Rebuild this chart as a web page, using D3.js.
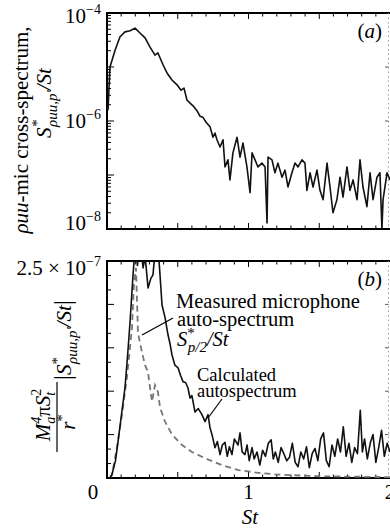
<!DOCTYPE html>
<html>
<head>
<meta charset="utf-8">
<script src="https://cdn.jsdelivr.net/npm/d3@7"></script>
<style>
  body { margin: 0; background: #fff; }
  svg { display: block; font-family: "Liberation Serif", "DejaVu Serif", serif; }
</style>
</head>
<body>
<svg id="chart" width="390" height="529"></svg>
<script>
// panel (a): rho-u-u / mic cross-spectrum (log axis)
const stA = [0.007, 0.021, 0.057, 0.092, 0.127, 0.163, 0.198, 0.233, 0.269, 0.304,
  0.339, 0.36, 0.396, 0.424, 0.459, 0.495, 0.523, 0.544, 0.565, 0.587,
  0.608, 0.636, 0.657, 0.678, 0.70, 0.728, 0.749, 0.763, 0.777, 0.799,
  0.82, 0.834, 0.855, 0.869, 0.89, 0.919, 0.94, 0.961, 0.989, 1.011,
  1.025, 1.046, 1.067, 1.095, 1.117, 1.131, 1.138, 1.166, 1.187, 1.208,
  1.237, 1.258, 1.279, 1.307, 1.329, 1.35, 1.378, 1.399, 1.413, 1.435,
  1.456, 1.484, 1.505, 1.527, 1.555, 1.576, 1.597, 1.625, 1.647, 1.668,
  1.696, 1.717, 1.739, 1.767, 1.788, 1.809, 1.837, 1.859, 1.88, 1.908,
  1.929, 1.943, 1.951, 1.979, 2.0];
const crossA = [1.58e-6, 1.0e-5, 2.04e-5, 3.63e-5, 4.47e-5, 4.68e-5, 5.25e-5, 4.27e-5, 3.47e-5, 2.34e-5,
  1.66e-5, 1.82e-5, 1.10e-5, 7.76e-6, 5.75e-6, 4.68e-6, 3.72e-6, 4.07e-6, 2.45e-6, 2.14e-6,
  1.91e-6, 1.55e-6, 1.23e-6, 1.17e-6, 9.5e-7, 7.8e-7, 5.0e-7, 6.0e-7, 4.5e-7, 3.3e-7,
  4.5e-7, 1.41e-7, 1.91e-7, 8.1e-8, 2.57e-7, 5.0e-7, 2.14e-7, 3.9e-7, 1.41e-7, 4.7e-8,
  2.57e-7, 1.91e-7, 1.41e-7, 1.66e-7, 1.41e-7, 1.29e-8, 2.14e-7, 1.91e-7, 1.10e-7, 1.66e-7,
  9.1e-8, 1.23e-7, 6.0e-8, 1.10e-7, 1.66e-7, 1.41e-7, 1.91e-7, 1.66e-7, 5.2e-8, 1.10e-7,
  6.0e-8, 1.23e-7, 5.2e-8, 3.5e-8, 1.66e-7, 6.0e-8, 2.0e-8, 3.5e-8, 9.1e-8, 3.9e-8,
  1.41e-7, 5.2e-8, 8.1e-8, 3.5e-8, 1.91e-7, 6.0e-8, 2.6e-8, 1.10e-7, 3.5e-8, 9.1e-8,
  1.10e-7, 1.0e-8, 3.5e-8, 1.10e-7, 8.1e-8];

// panel (b): calculated autospectrum (solid), units of 1e-7
const stCalc = [0.02, 0.035, 0.06, 0.078, 0.10, 0.127, 0.145, 0.163, 0.184, 0.20,
  0.215, 0.235, 0.255, 0.27, 0.29, 0.31, 0.325, 0.34, 0.355, 0.37,
  0.389, 0.41, 0.431, 0.445, 0.459, 0.48, 0.502, 0.52, 0.537, 0.555,
  0.572, 0.587, 0.60, 0.622, 0.645, 0.671, 0.693, 0.714, 0.728, 0.742,
  0.763, 0.78, 0.799, 0.815, 0.834, 0.85, 0.865, 0.883, 0.90, 0.926,
  0.94, 0.955, 0.975, 0.99, 1.005, 1.025, 1.04, 1.06, 1.08, 1.10,
  1.12, 1.14, 1.16, 1.175, 1.19, 1.21, 1.23, 1.25, 1.27, 1.29,
  1.31, 1.33, 1.35, 1.37, 1.39, 1.41, 1.43, 1.45, 1.47, 1.49,
  1.51, 1.53, 1.55, 1.57, 1.59, 1.61, 1.63, 1.65, 1.67, 1.69,
  1.71, 1.73, 1.75, 1.77, 1.79, 1.805, 1.82, 1.84, 1.86, 1.88,
  1.90, 1.92, 1.94, 1.96, 1.98, 2.0];
const calcB = [0.0, 0.04, 0.20, 0.42, 0.70, 1.04, 1.40, 1.80, 2.34, 2.70,
  2.45, 2.75, 2.42, 2.55, 2.19, 2.30, 2.34, 2.62, 2.75, 2.45,
  1.99, 1.85, 1.65, 1.55, 1.42, 1.30, 1.27, 1.18, 1.11, 1.10,
  1.04, 0.92, 0.95, 0.76, 0.80, 0.73, 0.65, 0.73, 0.58, 0.50,
  0.35, 0.42, 0.27, 0.38, 0.41, 0.25, 0.36, 0.27, 0.45, 0.38,
  0.52, 0.30, 0.27, 0.38, 0.20, 0.35, 0.22, 0.30, 0.15, 0.32,
  0.25, 0.40, 0.44, 0.22, 0.30, 0.18, 0.35, 0.28, 0.20, 0.24,
  0.40, 0.18, 0.13, 0.30, 0.22, 0.36, 0.12, 0.28, 0.34, 0.20,
  0.45, 0.52, 0.20, 0.13, 0.38, 0.25, 0.45, 0.30, 0.59, 0.25,
  0.40, 0.18, 0.35, 0.28, 0.78, 0.30, 0.45, 0.22, 0.40, 0.50,
  0.18, 0.35, 0.55, 0.25, 0.40, 0.30];

// panel (b): measured microphone auto-spectrum (dashed)
const stMeas = [0.02, 0.035, 0.071, 0.106, 0.141, 0.177, 0.19, 0.205, 0.212, 0.219,
  0.247, 0.269, 0.29, 0.304, 0.318, 0.339, 0.36, 0.375, 0.41, 0.46,
  0.53, 0.60, 0.69, 0.81, 0.93, 1.07, 1.2, 1.5, 2.0];
const measB = [0.0, 0.035, 0.36, 0.73, 1.16, 1.74, 2.22, 2.42, 2.05, 1.67,
  1.45, 1.30, 1.22, 1.04, 0.88, 1.07, 0.99, 0.81, 0.65, 0.50,
  0.38, 0.30, 0.23, 0.15, 0.09, 0.06, 0.04, 0.02, 0.01];

const xTickLabels = ['0', '1', '2'];
const yTicksA = [-4, -6, -8];

const svg = d3.select('#chart');
const left = 107, right = 390;
const x = d3.scaleLinear().domain([0, 2]).range([left, right]);
const yA = d3.scaleLog().domain([1e-8, 1e-4]).range([229, 13]);
const yB = d3.scaleLinear().domain([0, 2.5]).range([478, 261]);

svg.append('defs').append('clipPath').attr('id', 'clipB')
  .append('rect').attr('x', left).attr('y', 261).attr('width', right - left).attr('height', 217);
svg.append('defs').append('clipPath').attr('id', 'clipA')
  .append('rect').attr('x', left).attr('y', 13).attr('width', right - left).attr('height', 216);

// tick marks, all pointing inward
function xTicks(yPos, dir) {
  const g = svg.append('g').attr('stroke', '#000').attr('stroke-width', 1);
  g.selectAll('line').data(d3.range(1, 20).map(i => i / 10)).enter().append('line')
    .attr('x1', d => x(d)).attr('x2', d => x(d))
    .attr('y1', yPos).attr('y2', d => yPos + dir * (Math.abs(d * 2 - Math.round(d * 2)) < 1e-6 ? 6 : 3.5));
}
function frame(top, bottom) {
  const g = svg.append('g').attr('fill', 'none');
  g.append('path').attr('stroke', '#000').attr('stroke-width', 2)
    .attr('d', `M${right + 2},${top}H${left}V${bottom}H${right + 2}`);
  g.append('line').attr('x1', right - 1.5).attr('x2', right - 1.5).attr('y1', top).attr('y2', bottom)
    .attr('stroke', '#999').attr('stroke-width', 1).attr('stroke-dasharray', '1.5,3');
}

// panel a frame + ticks
frame(13, 229);
xTicks(13, 1);
xTicks(229, -1);
const logTicks = [];
for (let e = -8; e < -4; e++) for (let m = 1; m < 10; m++) logTicks.push({ v: m * Math.pow(10, e), major: m === 1 });
logTicks.push({ v: 1e-4, major: true });
svg.append('g').attr('stroke', '#000').selectAll('line').data(logTicks).enter().append('line')
  .attr('x1', left).attr('x2', d => left + (d.major ? 7 : 4))
  .attr('y1', d => yA(d.v)).attr('y2', d => yA(d.v));
svg.append('g').attr('stroke', '#555').selectAll('line').data([1e-5, 1e-6, 1e-7]).enter().append('line')
  .attr('x1', right - 1.5).attr('x2', right - 5)
  .attr('y1', d => yA(d)).attr('y2', d => yA(d));

// panel b frame + ticks
frame(261, 478);
xTicks(261, 1);
xTicks(478, -1);
const linTicks = d3.range(0, 16).map(i => ({ v: i * 2.5 / 15, major: i % 3 === 0 }));
svg.append('g').attr('stroke', '#000').selectAll('line').data(linTicks).enter().append('line')
  .attr('x1', left).attr('x2', d => left + (d.major ? 7 : 4))
  .attr('y1', d => yB(d.v)).attr('y2', d => yB(d.v));
svg.append('g').attr('stroke', '#555').selectAll('line').data([0.5, 1, 1.5, 2]).enter().append('line')
  .attr('x1', right - 1.5).attr('x2', right - 5)
  .attr('y1', d => yB(d)).attr('y2', d => yB(d));

// curves
const lineA = d3.line().x((d, i) => x(stA[i])).y(d => yA(d));
svg.append('path').datum(crossA).attr('clip-path', 'url(#clipA)')
  .attr('fill', 'none').attr('stroke', '#111').attr('stroke-width', 1.6)
  .attr('stroke-linejoin', 'round').attr('d', lineA);

const lineMeas = d3.line().x((d, i) => x(stMeas[i])).y(d => yB(d));
svg.append('path').datum(measB).attr('clip-path', 'url(#clipB)')
  .attr('fill', 'none').attr('stroke', '#777').attr('stroke-width', 1.8)
  .attr('stroke-dasharray', '6,4').attr('d', lineMeas);

const lineCalc = d3.line().x((d, i) => x(stCalc[i])).y(d => yB(d));
svg.append('path').datum(calcB).attr('clip-path', 'url(#clipB)')
  .attr('fill', 'none').attr('stroke', '#111').attr('stroke-width', 1.6)
  .attr('stroke-linejoin', 'round').attr('d', lineCalc);

// tick labels
const yLab = svg.append('g').attr('font-size', 21).attr('text-anchor', 'end');
const yBase = { '-4': 23, '-6': 128, '-8': 230 };
yTicksA.forEach(e => {
  const t = yLab.append('text').attr('x', 101).attr('y', yBase[e]);
  t.append('tspan').text('10');
  t.append('tspan').attr('font-size', 14).attr('dy', -9).text('\u2212' + Math.abs(e));
});
const tB = yLab.append('text').attr('x', 101).attr('y', 275);
tB.append('tspan').text('2.5 \u00d7 10');
tB.append('tspan').attr('font-size', 14).attr('dy', -9).text('\u22127');

svg.append('g').attr('font-size', 21).attr('text-anchor', 'middle')
  .selectAll('text').data(xTickLabels).enter().append('text')
  .attr('x', (d, i) => i === 0 ? x(0) - 14 : x(i))
  .attr('y', 499).text(d => d);

svg.append('text').attr('x', 250).attr('y', 524).attr('text-anchor', 'middle')
  .attr('font-size', 21).attr('font-style', 'italic').text('St');

// panel letters
[['a', 38], ['b', 286]].forEach(([s, yy]) => {
  const t = svg.append('text').attr('x', 382).attr('y', yy).attr('text-anchor', 'end').attr('font-size', 21);
  t.append('tspan').text('(');
  t.append('tspan').attr('font-style', 'italic').text(s);
  t.append('tspan').text(')');
});

// y label panel a
const la1 = svg.append('text').attr('transform', 'translate(28,130) rotate(-90)')
  .attr('text-anchor', 'middle').attr('font-size', 21);
la1.append('tspan').attr('font-style', 'italic').text('\u03c1uu');
la1.append('tspan').text('-mic cross-spectrum,');

const la2 = svg.append('text').attr('transform', 'translate(51,103) rotate(-90)')
  .attr('text-anchor', 'middle').attr('font-size', 21).attr('font-style', 'italic');
la2.append('tspan').text('S');
la2.append('tspan').attr('font-size', 15).attr('dy', -9).text('*');
la2.append('tspan').attr('font-size', 15).attr('dx', -7).attr('dy', 15).text('\u03c1uu,p\u2032');
la2.append('tspan').attr('dy', -6).text('/St');

// y label panel b (fraction)
const num = svg.append('text').attr('transform', 'translate(50,415) rotate(-90)')
  .attr('text-anchor', 'middle').attr('font-size', 21).attr('font-style', 'italic');
num.append('tspan').text('M');
num.append('tspan').attr('font-size', 14).attr('dy', -9).text('4');
num.append('tspan').attr('font-size', 14).attr('dx', -7).attr('dy', 14).text('a');
num.append('tspan').attr('dy', -5).attr('font-style', 'normal').text('\u03c0');
num.append('tspan').text('S');
num.append('tspan').attr('font-size', 14).attr('dy', -9).attr('font-style', 'normal').text('2');
num.append('tspan').attr('font-size', 14).attr('dx', -7).attr('dy', 14).text('t');
svg.append('line').attr('x1', 57).attr('x2', 57).attr('y1', 382).attr('y2', 452)
  .attr('stroke', '#000').attr('stroke-width', 1.2);
const den = svg.append('text').attr('transform', 'translate(75,422) rotate(-90)')
  .attr('text-anchor', 'middle').attr('font-size', 21).attr('font-style', 'italic');
den.append('tspan').text('r');
den.append('tspan').attr('font-size', 15).attr('dy', -8).attr('font-style', 'normal').text('*');

const sb = svg.append('text').attr('transform', 'translate(71,340) rotate(-90)')
  .attr('text-anchor', 'middle').attr('font-size', 21).attr('font-style', 'italic');
sb.append('tspan').attr('font-style', 'normal').attr('font-size', 25).text('|');
sb.append('tspan').text('S');
sb.append('tspan').attr('font-size', 15).attr('dy', -9).attr('font-style', 'normal').text('*');
sb.append('tspan').attr('font-size', 15).attr('dx', -7).attr('dy', 15).text('\u03c1uu,p\u2032');
sb.append('tspan').attr('dy', -6).text('/St');
sb.append('tspan').attr('font-style', 'normal').attr('font-size', 25).text('|');

// annotations panel b
const ann = svg.append('g').attr('font-size', 20.5);
ann.append('text').attr('x', 176).attr('y', 308).text('Measured microphone');
ann.append('text').attr('x', 177).attr('y', 326).text('auto-spectrum');
const sp = ann.append('text').attr('x', 177).attr('y', 346).attr('font-style', 'italic');
sp.append('tspan').text('S');
sp.append('tspan').attr('font-size', 15).attr('dy', -8).attr('font-style', 'normal').text('*');
sp.append('tspan').attr('font-size', 15).attr('dx', -7).attr('dy', 14).text('p/2');
sp.append('tspan').attr('dy', -6).text('/St');
ann.append('line').attr('x1', 142).attr('y1', 335).attr('x2', 173).attr('y2', 318)
  .attr('stroke', '#000').attr('stroke-width', 1.2);

const ann2 = svg.append('g').attr('font-size', 18.5);
ann2.append('text').attr('x', 197).attr('y', 381).text('Calculated');
ann2.append('text').attr('x', 197).attr('y', 397).text('autospectrum');
ann2.append('line').attr('x1', 208).attr('y1', 418).attr('x2', 222).attr('y2', 399)
  .attr('stroke', '#000').attr('stroke-width', 1.2);
</script>
</body>
</html>
